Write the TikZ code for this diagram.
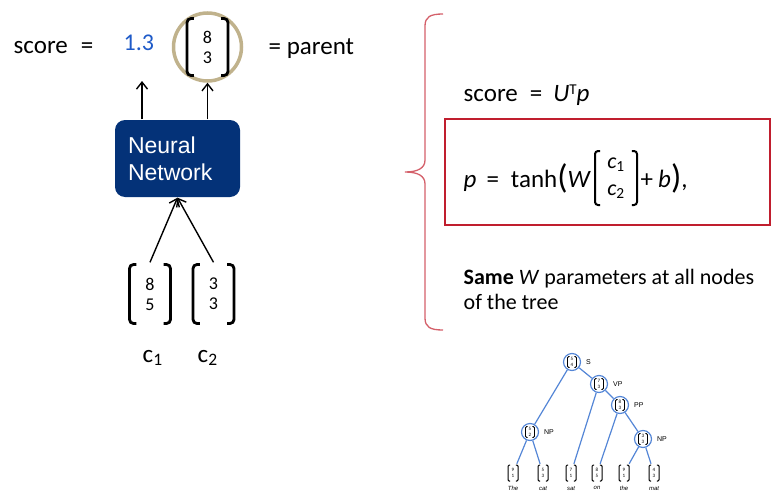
\documentclass[tikz,border=0pt]{standalone}
\usepackage{fontspec}
\setmainfont{Carlito}
\newfontfamily\helv{Liberation Sans}
\usetikzlibrary{positioning,arrows.meta}
\definecolor{netblue}{RGB}{4,50,120}
\definecolor{scoreblue}{RGB}{30,90,200}
\definecolor{parentgold}{RGB}{192,178,140}
\definecolor{bracered}{RGB}{212,96,106}
\definecolor{boxred}{RGB}{192,30,46}
\definecolor{treeblue}{RGB}{84,134,214}

\begin{document}
\begin{tikzpicture}[x=1pt ,y=-1pt ,>={Straight Barb[length=7pt,width=11pt]} ,line width=1.4pt ,
  br/.style n args={4}{path picture={
    \draw[black ,line width=#1 ,rounded corners=#2]
      ([shift={(#3+1.7*#2,-#4)}]path picture bounding box.north west) -- ([shift={(#3,-#4)}]path picture bounding box.north west)
      -- ([shift={(#3,#4)}]path picture bounding box.south west) -- ([shift={(#3+1.7*#2,#4)}]path picture bounding box.south west);
    \draw[black ,line width=#1 ,rounded corners=#2]
      ([shift={(-#3-1.7*#2,-#4)}]path picture bounding box.north east) -- ([shift={(-#3,-#4)}]path picture bounding box.north east)
      -- ([shift={(-#3,#4)}]path picture bounding box.south east) -- ([shift={(-#3-1.7*#2,#4)}]path picture bounding box.south east);}} ,
  vec/.style={minimum width=44pt ,minimum height=62pt ,inner sep=0 ,align=center ,font=\fontsize{18}{20}\selectfont ,br={2.8pt}{4pt}{1.5pt}{1.5pt}} ,
  cmat/.style={minimum width=44pt ,minimum height=56pt ,inner sep=0 ,align=center ,font=\fontsize{22}{27}\selectfont ,br={2pt}{3pt}{1pt}{1pt}} ,
  tnode/.style={circle ,draw=treeblue ,line width=1.2pt ,minimum size=17pt ,inner sep=0 ,align=center ,font=\fontsize{5}{5.5}\selectfont ,br={0.9pt}{1.2pt}{4pt}{3pt}} ,
  tleaf/.style={minimum width=11pt ,minimum height=17pt ,inner sep=0 ,align=center ,font=\fontsize{5}{6}\selectfont ,br={1pt}{1.2pt}{0.5pt}{0.5pt}} ,
  word/.style={label={[font=\helv\itshape\fontsize{6}{6}\selectfont ,label distance=0pt]below:#1}} ,
  tlab/.style={label={[font=\helv\fontsize{7}{7}\selectfont ,label distance=1pt]right:#1}} ,
  nnbox/.style={fill=netblue ,rounded corners=10pt ,minimum width=125pt ,minimum height=77pt ,text width=99pt ,align=left ,text=white ,inner sep=0 ,font=\helv\fontsize{23}{27}\selectfont} ,
  txt/.style={inner sep=0 ,anchor=base west ,font=\fontsize{25}{30}\selectfont}]
\useasboundingbox (0,0) rectangle (783,503);

% left: one step of the network
\node[txt] (score) at (13,53) {score\hspace{13pt}=};
\node[txt ,text=scoreblue ,font=\fontsize{24}{28}\selectfont] (one) at (123,50) {1.3};
\node[circle ,draw=parentgold ,line width=3.5pt ,minimum size=68pt] (pcirc) at (207.5,47) {};
\node[vec ,minimum height=60pt] (pvec) at (207.5,47) {8\\3};
\node[txt] (parent) at (268,55) {= parent};
\coordinate (sc) at (142,81);

\node[nnbox] (nn) at (177.5,158.5) {Neural\\Network};

\node[vec] (c1vec) at (150,294) {8\\5};
\node[vec] (c2vec) at (213.5,294) {3\\3};
\node[txt] (c1) at (142,362) {c\textsubscript{1}};
\node[txt] (c2) at (197,362) {c\textsubscript{2}};

\draw[->] (nn.north -| sc) -- (sc);
\draw[->] (nn.north -| pcirc) -- (pcirc.south);
\draw[->] (c1vec.north) -- (nn.south);
\draw[->] (c2vec.north) -- (nn.south);

% right: brace and equations
\draw[bracered ,line width=1.3pt] (443,14) .. controls (430,14) and (425,17) .. (425,26) -- (425,160)
  .. controls (425,168) and (418,172) .. (405,172) .. controls (418,172) and (425,176) .. (425,184)
  -- (425,318) .. controls (425,327) and (430,330) .. (443,330);

\node[txt] (rscore) at (463,101) {score\hspace{12pt}=\hspace{11pt}\textit{U}{\fontsize{15}{15}\selectfont\raisebox{7pt}{T}}\textit{p}};
\node[draw=boxred ,line width=2pt ,minimum width=325pt ,minimum height=106pt] (fbox) at (607.5,172) {};
\node[txt] (peq) at (463,187) {\textit{p}\hspace{10pt}=\hspace{12pt}tanh{\fontsize{34}{34}\selectfont\raisebox{-1pt}{(}}\textit{W}};
\node[cmat] (cmat) at (616,178) {\textit{c}\textsubscript{1}\\\textit{c}\textsubscript{2}};
\node[txt] (pb) at (640,187) {+\hspace{5pt}\textit{b}{\fontsize{34}{34}\selectfont\raisebox{-1pt}{)}},};

\node[txt ,font=\fontsize{22}{25}\selectfont ,anchor=north west ,align=left] (same) at (463,269) {\textbf{Same} \textit{W} parameters at all nodes\\of the tree};

% bottom: the parse tree
\node[tnode ,tlab=S] (S) at (572,362) {5\\4};
\node[tnode ,tlab=VP] (VP) at (599,384) {7\\3};
\node[tnode ,tlab=PP] (PP) at (620,405) {8\\3};
\node[tnode ,tlab=NP] (NPa) at (530,432) {5\\2};
\node[tnode ,tlab=NP] (NPb) at (643,439) {3\\3};
\node[tleaf ,word=The] (w1) at (513,473) {9\\1};
\node[tleaf ,word=cat] (w2) at (543,473) {5\\3};
\node[tleaf ,word=sat] (w3) at (571,473) {7\\1};
\node[tleaf ,word=on] (w4) at (597,473) {8\\5};
\node[tleaf ,word=the] (w5) at (624,473) {9\\1};
\node[tleaf ,word=mat] (w6) at (654,473) {4\\3};
\path[treeblue ,line width=1.2pt] (S) edge (NPa) (S) edge (VP) (VP) edge (w3) (VP) edge (PP)
  (PP) edge (w4) (PP) edge (NPb) (NPa) edge (w1) (NPa) edge (w2) (NPb) edge (w5) (NPb) edge (w6);
\end{tikzpicture}
\end{document}
